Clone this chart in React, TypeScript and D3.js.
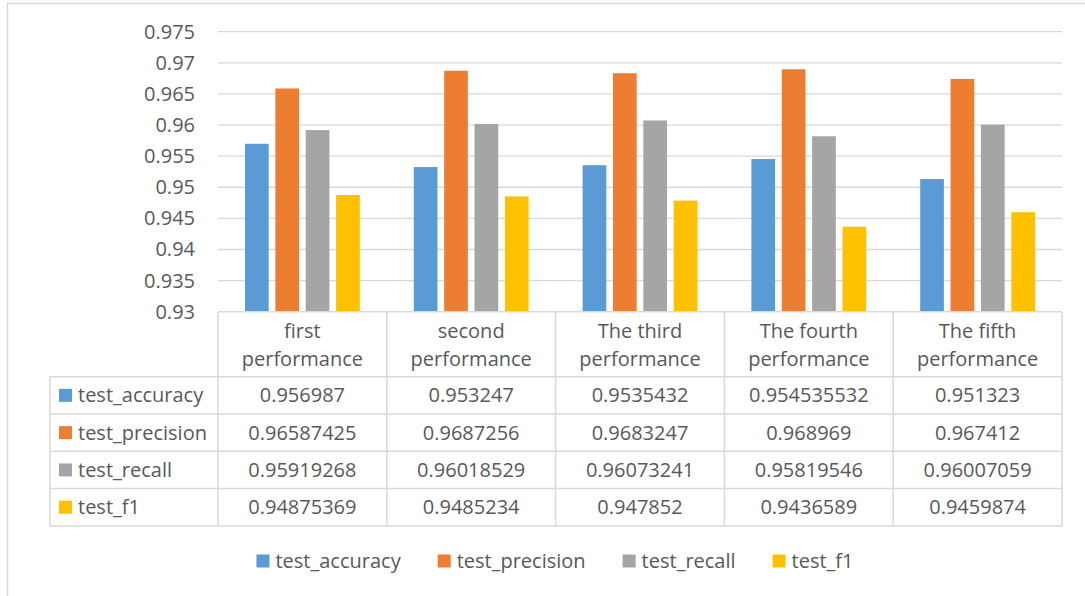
import { useEffect, useRef } from 'react';
import * as d3 from 'd3';

const categories = [
  ['first', 'performance'],
  ['second', 'performance'],
  ['The third', 'performance'],
  ['The fourth', 'performance'],
  ['The fifth', 'performance'],
];
const seriesNames = ['test_accuracy', 'test_precision', 'test_recall', 'test_f1'];
const testAccuracy = ['0.956987', '0.953247', '0.9535432', '0.954535532', '0.951323'];
const testPrecision = ['0.96587425', '0.9687256', '0.9683247', '0.968969', '0.967412'];
const testRecall = ['0.95919268', '0.96018529', '0.96073241', '0.95819546', '0.96007059'];
const testF1 = ['0.94875369', '0.9485234', '0.947852', '0.9436589', '0.9459874'];
const yTicks = [0.93, 0.935, 0.94, 0.945, 0.95, 0.955, 0.96, 0.965, 0.97, 0.975];

const colors = {
  accuracy: '#5B9BD5',
  precision: '#ED7D31',
  recall: '#A5A5A5',
  f1: '#FFC000',
  text: '#595959',
  line: '#D9D9D9',
};
const seriesColors = [colors.accuracy, colors.precision, colors.recall, colors.f1];
const FONT = "'Open Sans', 'Noto Sans', sans-serif";

export default function App() {
  const ref = useRef<SVGSVGElement>(null);

  useEffect(() => {
    const svg = d3.select(ref.current);
    svg.selectAll('*').remove();

    const rows = [testAccuracy, testPrecision, testRecall, testF1];
    const plotLeft = 218;
    const plotRight = 1062;
    const plotTop = 31.7;
    const plotBottom = 311.7;
    const tableLeft = 50;
    const headerH = 65;
    const rowH = 37.3;

    // outer chart frame
    svg
      .append('rect')
      .attr('x', 7.5)
      .attr('y', 3.5)
      .attr('width', 1200)
      .attr('height', 800)
      .attr('fill', 'white')
      .attr('stroke', colors.line)
      .attr('stroke-width', 1.5);

    const y = d3.scaleLinear().domain([0.93, 0.975]).range([plotBottom, plotTop]);
    const x0 = d3
      .scaleBand()
      .domain(categories.map((c, i) => String(i)))
      .range([plotLeft, plotRight]);
    const x1 = d3
      .scaleBand()
      .domain(seriesNames)
      .range([27, x0.bandwidth() - 27])
      .paddingInner(0.22);

    // gridlines
    svg
      .append('g')
      .selectAll('line')
      .data(yTicks.slice(1))
      .enter()
      .append('line')
      .attr('x1', plotLeft)
      .attr('x2', plotRight)
      .attr('y1', d => y(d))
      .attr('y2', d => y(d))
      .attr('stroke', colors.line)
      .attr('stroke-width', 1.3);

    // y axis labels
    svg
      .append('g')
      .selectAll('text')
      .data(yTicks)
      .enter()
      .append('text')
      .text(d => String(d))
      .attr('x', 195)
      .attr('y', d => y(d))
      .attr('dy', '0.35em')
      .attr('text-anchor', 'end')
      .style('font-family', FONT)
      .style('font-size', '20px')
      .attr('fill', colors.text);

    // bars
    const groups = svg
      .append('g')
      .selectAll('g')
      .data(categories.map((c, i) => i))
      .enter()
      .append('g')
      .attr('transform', i => `translate(${x0(String(i))},0)`);

    groups
      .selectAll('rect')
      .data(i => rows.map((r, s) => ({ name: seriesNames[s], value: +r[i], color: seriesColors[s] })))
      .enter()
      .append('rect')
      .attr('x', d => x1(d.name))
      .attr('width', x1.bandwidth())
      .attr('y', d => y(d.value))
      .attr('height', d => plotBottom - y(d.value))
      .attr('fill', d => d.color);

    // data table
    const table = svg.append('g').attr('class', 'table');
    const tableBottom = plotBottom + headerH + rowH * rows.length;
    const hLines = [plotBottom + headerH, ...rows.map((r, i) => plotBottom + headerH + rowH * (i + 1))];
    table
      .append('line')
      .attr('x1', plotLeft)
      .attr('x2', plotRight)
      .attr('y1', plotBottom)
      .attr('y2', plotBottom);
    table
      .selectAll('.hline')
      .data(hLines)
      .enter()
      .append('line')
      .attr('x1', tableLeft)
      .attr('x2', plotRight)
      .attr('y1', d => d)
      .attr('y2', d => d);
    table
      .append('line')
      .attr('x1', tableLeft)
      .attr('x2', tableLeft)
      .attr('y1', plotBottom + headerH)
      .attr('y2', tableBottom);
    table
      .selectAll('.vline')
      .data(d3.range(categories.length + 1))
      .enter()
      .append('line')
      .attr('x1', i => plotLeft + x0.step() * i)
      .attr('x2', i => plotLeft + x0.step() * i)
      .attr('y1', plotBottom)
      .attr('y2', tableBottom);
    table.selectAll('line').attr('stroke', colors.line).attr('stroke-width', 1.5);

    // header text
    categories.forEach((c, i) => {
      const cx = (x0(String(i)) as number) + x0.bandwidth() / 2;
      c.forEach((line, j) => {
        table
          .append('text')
          .text(line)
          .attr('x', cx)
          .attr('y', plotBottom + 19.5 + j * 28)
          .attr('dy', '0.35em')
          .attr('text-anchor', 'middle')
          .style('font-family', FONT)
          .style('font-size', '20px')
          .attr('fill', colors.text);
      });
    });

    // rows
    rows.forEach((r, s) => {
      const cy = plotBottom + headerH + rowH * s + rowH / 2;
      table
        .append('rect')
        .attr('x', tableLeft + 9)
        .attr('y', cy - 6.5)
        .attr('width', 13)
        .attr('height', 13)
        .attr('fill', seriesColors[s]);
      table
        .append('text')
        .text(seriesNames[s])
        .attr('x', tableLeft + 28)
        .attr('y', cy)
        .attr('dy', '0.35em')
        .style('font-family', FONT)
        .style('font-size', '20px')
        .attr('fill', colors.text);
      r.forEach((v, i) => {
        table
          .append('text')
          .text(v)
          .attr('x', (x0(String(i)) as number) + x0.bandwidth() / 2)
          .attr('y', cy)
          .attr('dy', '0.35em')
          .attr('text-anchor', 'middle')
          .style('font-family', FONT)
          .style('font-size', '20px')
          .attr('fill', colors.text);
      });
    });

    // legend
    const legend = svg.append('g').attr('class', 'legend');
    const items = legend
      .selectAll('g')
      .data(seriesNames)
      .enter()
      .append('g');
    items
      .append('rect')
      .attr('width', 13)
      .attr('height', 13)
      .attr('y', -6.5)
      .attr('fill', (d, i) => seriesColors[i]);
    const labels = items
      .append('text')
      .text(d => d)
      .attr('x', 19)
      .attr('dy', '0.35em')
      .style('font-family', FONT)
      .style('font-size', '20px')
      .attr('fill', colors.text);
    const widths = labels.nodes().map(n => 19 + (n as SVGTextElement).getComputedTextLength());
    const gap = 37;
    const total = d3.sum(widths) + gap * (widths.length - 1);
    let cursor = 555 - total / 2;
    items.attr('transform', (d, i) => {
      const t = `translate(${cursor},561)`;
      cursor += widths[i] + gap;
      return t;
    });
  }, []);

  return (
    <svg
      ref={ref}
      width={1085}
      height={596}
      style={{ position: 'absolute', left: 0, top: 0, background: 'white' }}
    />
  );
}
